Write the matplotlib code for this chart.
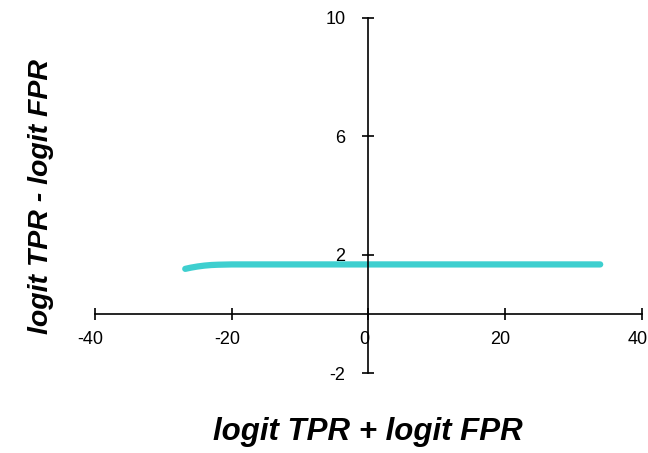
import matplotlib
matplotlib.use("Agg")
import matplotlib.pyplot as plt
import matplotlib.transforms as mtransforms

# curve
sum_logit = [-26.8, -26.0, -25.0, -24.0, -23.0, -22.0, -20.0, -15.0, -10.0, 0.0, 10.0, 20.0, 30.0, 33.9]
diff_logit = [1.52, 1.56, 1.60, 1.63, 1.65, 1.66, 1.67, 1.67, 1.67, 1.67, 1.67, 1.67, 1.67, 1.67]

x_ticks = [-40, -20, 0, 20, 40]
y_ticks = [-2, 2, 6, 10]

plt.rcParams['font.family'] = ['Liberation Sans', 'DejaVu Sans']
plt.rcParams['axes.unicode_minus'] = False

fig = plt.figure(figsize=(6.48, 4.53), dpi=100)
ax = fig.add_axes([0.1466, 0.1766, 0.844, 0.7837])

ax.plot(sum_logit, diff_logit, color='#3ecfcf', linewidth=4.5, solid_capstyle='round')

ax.set_xlim(-40, 40)
ax.set_ylim(-2, 10)
ax.set_xticks(x_ticks)
ax.set_yticks(y_ticks)

for side in ['top', 'right']:
    ax.spines[side].set_visible(False)
ax.spines['left'].set_position(('data', 0))
ax.spines['bottom'].set_position(('data', 0))
ax.spines['left'].set_linewidth(1.2)
ax.spines['bottom'].set_linewidth(1.2)

ax.tick_params(axis='both', direction='inout', length=9, width=1.2, labelsize=13)
ax.tick_params(axis='x', pad=8)
ax.tick_params(axis='y', pad=12)

# x tick labels sit a few pixels left of their ticks in the reference
shift = mtransforms.ScaledTranslation(-4.5 / 100, 0, fig.dpi_scale_trans)
for lbl in ax.get_xticklabels():
    lbl.set_transform(lbl.get_transform() + shift)

fig.text(0.567, 0.046, 'logit TPR + logit FPR', fontsize=22.5, fontweight='bold',
         fontstyle='italic', ha='center', va='center')
fig.text(0.064, 0.567, 'logit TPR - logit FPR', fontsize=20.5, fontweight='bold',
         fontstyle='italic', ha='center', va='center', rotation=90)

plt.savefig('out.png', dpi=100)
